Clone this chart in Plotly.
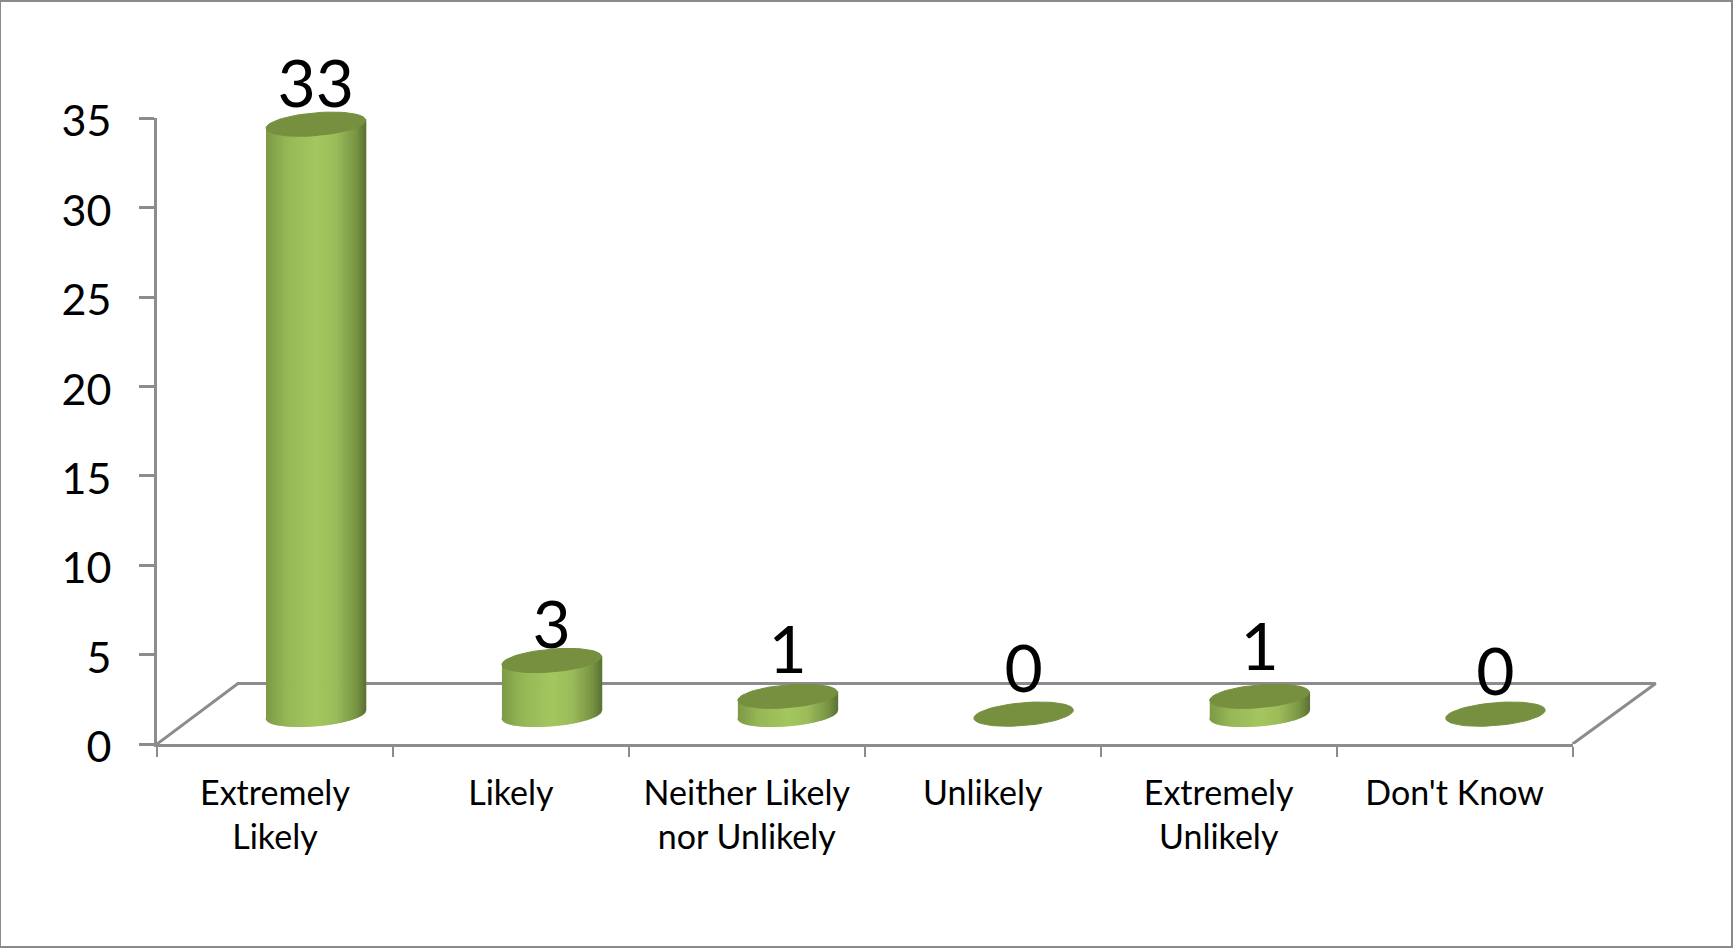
import numpy as np
import plotly.graph_objects as go

categories = ["Extremely<br>Likely", "Likely", "Neither Likely<br>nor Unlikely", "Unlikely", "Extremely<br>Unlikely", "Don't Know"]
values = [33, 3, 1, 0, 1, 0]
y_ticks = [0, 5, 10, 15, 20, 25, 30, 35]

# picture geometry
W, H = 1734, 949
L, R, T, B = 157, 161.4, 118.3, 205     # frame of the value and category axes
R2, T2 = 40.0, 10.0                     # larger frame that the marks are drawn in
DEPTH_X, DEPTH_Y = 0.173, 1.67          # pseudo-3D shift of a bar's base from the axis
RX, RY, SHEAR = 0.211, 0.64, 0.225      # ellipse of a cylinder
LABEL_LIFT = [1.9, 1.6, 2.25, 2.15, 2.4, 2.0]
N = 90

AXIS = "#8c8c8c"
TOP = "#76903f"

inner_w, inner_h = W - L - R, H - T - B
outer_w, outer_h = W - L - R2, H - T2 - B
x_span = 6 * outer_w / inner_w
y_span = 35 * outer_h / inner_h


def gradient(f):
    stops = [(0.0, (0x7d, 0x9a, 0x46)), (0.2, (0x96, 0xb7, 0x57)), (0.5, (0xa5, 0xc7, 0x60)),
             (0.7, (0x9c, 0xbd, 0x5b)), (0.9, (0x7a, 0x96, 0x45)), (1.0, (0x5c, 0x75, 0x34))]
    rgb = [np.interp(f, [s[0] for s in stops], [s[1][i] for s in stops]) for i in range(3)]
    return "rgb(%d,%d,%d)" % tuple(rgb)


def arc(u):
    """Front edge offset of the ellipse at u in [-1, 1] across its width."""
    return SHEAR * u - RY * np.sqrt(np.clip(1 - u * u, 0, 1))


fig = go.Figure()

# floor outline
fig.add_trace(go.Scatter(x=[0, 0.343, 6.352, 6], y=[0, 3.38, 3.38, 0], mode="lines",
                         xaxis="x2", yaxis="y2",
                         line=dict(color=AXIS, width=3),
                         hoverinfo="skip", showlegend=False))

# cylinder walls: one trace per gradient strip
edges = np.linspace(-1, 1, N + 1)
for k in range(N):
    xs, ys = [], []
    ua = np.linspace(edges[k], edges[k + 1], 4)
    for i, v in enumerate(values):
        if v <= 0:
            continue
        cx = i + 0.5 + DEPTH_X
        bottom = DEPTH_Y + arc(ua)
        top = DEPTH_Y + v + SHEAR * ua
        xs += list(cx + RX * ua) + list(cx + RX * ua[::-1]) + [None]
        ys += list(bottom) + list(top[::-1]) + [None]
    fig.add_trace(go.Scatter(x=xs, y=ys, mode="lines", fill="toself", xaxis="x2", yaxis="y2",
                             fillcolor=gradient((k + 0.5) / N),
                             line=dict(color=gradient((k + 0.5) / N), width=1.5),
                             hoverinfo="skip", showlegend=False))

# cylinder tops
t = np.linspace(0, 2 * np.pi, 61)
xs, ys = [], []
for i, v in enumerate(values):
    cx = i + 0.5 + DEPTH_X
    xs += list(cx + RX * np.cos(t)) + [None]
    ys += list(DEPTH_Y + v + SHEAR * np.cos(t) + RY * np.sin(t)) + [None]
fig.add_trace(go.Scatter(x=xs, y=ys, mode="lines", fill="toself", fillcolor=TOP,
                         xaxis="x2", yaxis="y2",
                         line=dict(color=TOP, width=1),
                         hoverinfo="skip", showlegend=False))

# data labels
fig.add_trace(go.Scatter(x=[i + 0.5 + DEPTH_X for i in range(len(values))],
                         y=[v + DEPTH_Y + g for v, g in zip(values, LABEL_LIFT)],
                         mode="text", text=[str(v) for v in values], textposition="middle center",
                         xaxis="x2", yaxis="y2",
                         textfont=dict(family="Lato", size=66, color="#000000"),
                         hoverinfo="skip", showlegend=False))

# an empty trace keeps the visible axes alive
fig.add_trace(go.Scatter(x=[None], y=[None], mode="lines", hoverinfo="skip", showlegend=False))

fig.update_layout(
    template=None,
    width=W, height=H, autosize=False,
    margin=dict(l=L, r=R2, t=T2, b=B, pad=0, autoexpand=False),
    paper_bgcolor="#ffffff", plot_bgcolor="rgba(0,0,0,0)",
    showlegend=False,
    xaxis=dict(domain=[0, inner_w / outer_w], range=[0, 6], anchor="y", automargin=False,
               tickmode="array", tickvals=[i + 0.5 for i in range(len(categories))],
               ticktext=categories, ticks="", showgrid=False, zeroline=False,
               showline=True, linecolor=AXIS, linewidth=3, tickangle=0,
               ticklabelstandoff=17,
               tickfont=dict(family="Lato", size=34, color="#000000"),
               minor=dict(tickmode="array", tickvals=list(range(len(categories) + 1)),
                          ticks="outside", ticklen=10, tickwidth=2, tickcolor=AXIS, showgrid=False)),
    yaxis=dict(domain=[0, inner_h / outer_h], range=[0, 35], anchor="x", automargin=False,
               tickmode="array", tickvals=y_ticks, ticks="outside", ticklen=15,
               tickwidth=2.5, tickcolor=AXIS, showgrid=False, zeroline=False,
               showline=True, linecolor=AXIS, linewidth=3,
               ticklabelstandoff=19, ticklabelshift=3,
               tickfont=dict(family="Lato", size=43, color="#000000")),
    xaxis2=dict(domain=[0, 1], range=[0, x_span], anchor="y2", visible=False, automargin=False),
    yaxis2=dict(domain=[0, 1], range=[0, y_span], anchor="x2", visible=False, automargin=False),
    shapes=[dict(type="rect", xref="paper", yref="paper",
                 x0=(0 - L) / outer_w, x1=(W - 2 - L) / outer_w,
                 y0=-(B - 2) / outer_h, y1=1 + (T2 - 1) / outer_h,
                 line=dict(color="#8a8a8a", width=2), fillcolor="rgba(0,0,0,0)")],
)

fig.write_html("out.html", config=dict(displayModeBar=False),
               post_script="document.body.style.margin='0';document.body.style.overflow='hidden';")
